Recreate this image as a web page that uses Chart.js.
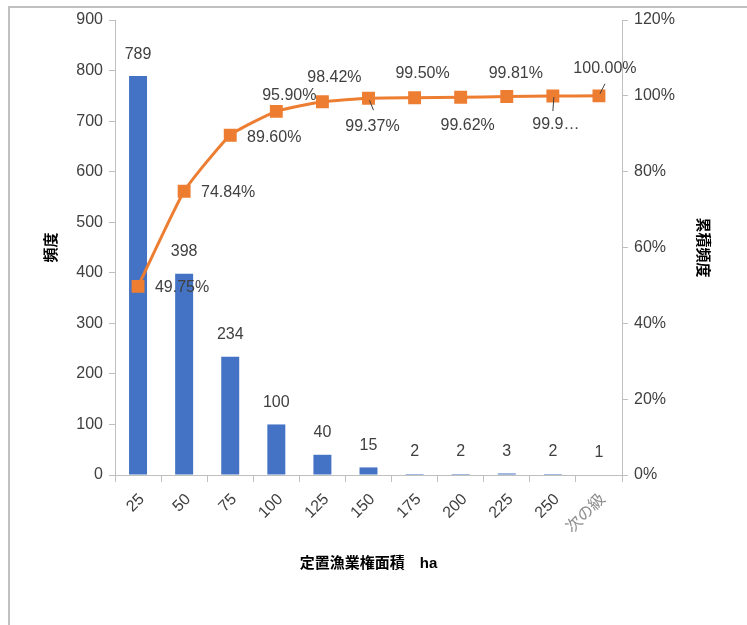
<!DOCTYPE html>
<html>
<head>
<meta charset="utf-8">
<script src="https://cdn.jsdelivr.net/npm/chart.js@4/dist/chart.umd.min.js"></script>
<style>
  html, body { margin: 0; padding: 0; background: #fff; }
  #wrap { width: 747px; height: 625px; }
</style>
</head>
<body>
<div id="wrap"><canvas id="chart" width="747" height="625"></canvas></div>
<script>
const categories = ['25', '50', '75', '100', '125', '150', '175', '200', '225', '250', '次の級'];
const frequency = [789, 398, 234, 100, 40, 15, 2, 2, 3, 2, 1];
const cumulative = [49.75, 74.84, 89.60, 95.90, 98.42, 99.37, 99.50, 99.62, 99.81, 99.94, 100.00];
const cumulativeText = ['49.75%', '74.84%', '89.60%', '95.90%', '98.42%', '99.37%', '99.50%', '99.62%', '99.81%', '99.9…', '100.00%'];

// label placement relative to each marker (dx, dy) plus optional leader line
const labelOffsets = [
  {dx: 44, dy: 1}, {dx: 44, dy: 1}, {dx: 44, dy: 2},
  {dx: 13, dy: -16}, {dx: 12, dy: -24},
  {dx: 4, dy: 28, lead: [1, 2, 5, 12]},
  {dx: 8, dy: -24}, {dx: 7, dy: 28}, {dx: 9, dy: -23},
  {dx: 3, dy: 29, lead: [1, 1, 0, 15]},
  {dx: 6, dy: -27, lead: [6, -12, 1, -2]}
];

const FONT = "'Liberation Sans', 'Noto Sans CJK JP', Arial, sans-serif";

const frame = {
  id: 'frame',
  beforeDraw(chart) {
    const ctx = chart.ctx;
    ctx.save();
    ctx.strokeStyle = '#c0c0c0';
    ctx.lineWidth = 2;
    ctx.beginPath();
    ctx.moveTo(9, 625);
    ctx.lineTo(9, 7);
    ctx.lineTo(747, 7);
    ctx.stroke();
    ctx.restore();
  }
};

const valueLabels = {
  id: 'valueLabels',
  afterDatasetsDraw(chart) {
    const ctx = chart.ctx;
    ctx.save();
    ctx.font = '16px ' + FONT;
    ctx.fillStyle = '#404040';
    ctx.textAlign = 'center';
    ctx.textBaseline = 'middle';
    chart.getDatasetMeta(1).data.forEach((bar, i) => {
      ctx.fillText(String(frequency[i]), bar.x, bar.y - 22);
    });
    chart.getDatasetMeta(0).data.forEach((pt, i) => {
      const o = labelOffsets[i];
      if (o.lead) {
        ctx.strokeStyle = '#404040';
        ctx.lineWidth = 1;
        ctx.beginPath();
        ctx.moveTo(pt.x + o.lead[0], pt.y + o.lead[1]);
        ctx.lineTo(pt.x + o.lead[2], pt.y + o.lead[3]);
        ctx.stroke();
      }
      ctx.fillText(cumulativeText[i], pt.x + o.dx, pt.y + o.dy);
    });
    ctx.restore();
  }
};

new Chart(document.getElementById('chart'), {
  data: {
    labels: categories,
    datasets: [
      {
        type: 'line',
        label: '累積頻度',
        data: cumulative,
        yAxisID: 'y1',
        borderColor: '#ED7D31',
        backgroundColor: '#ED7D31',
        borderWidth: 3,
        pointStyle: 'rect',
        pointRadius: 7,
        pointHoverRadius: 7,
        tension: 0.15,
        order: 0
      },
      {
        type: 'bar',
        label: '頻度',
        data: frequency,
        yAxisID: 'y',
        backgroundColor: '#4472C4',
        categoryPercentage: 1,
        barPercentage: 0.39,
        order: 1
      }
    ]
  },
  options: {
    responsive: false,
    animation: false,
    layout: {padding: {left: 39, right: 32, top: 20, bottom: 48}},
    plugins: {
      legend: {display: false},
      tooltip: {enabled: false}
    },
    scales: {
      x: {
        grid: {drawOnChartArea: false, color: '#bfbfbf', tickLength: 7},
        border: {color: '#bfbfbf'},
        ticks: {
          minRotation: 45, maxRotation: 45, padding: 8, labelOffset: 4,
          font: {family: FONT, size: 16},
          color: ctx => ctx.index === 10 ? '#8c8c8c' : '#404040'
        },
        title: {display: true, text: '定置漁業権面積　ha', font: {family: FONT, size: 15, weight: 'bold'}, color: '#000', padding: {top: 20}},
        afterFit: s => { s.height = 102; }
      },
      y: {
        position: 'left',
        min: 0, max: 900,
        ticks: {stepSize: 100, font: {family: FONT, size: 16}, color: '#404040', padding: 6},
        grid: {drawOnChartArea: false, color: '#bfbfbf', tickLength: 6},
        border: {color: '#bfbfbf'},
        title: {display: true, text: '頻度', font: {family: FONT, size: 15, weight: 'bold'}, color: '#000'},
        afterFit: s => { s.width = 76; }
      },
      y1: {
        position: 'right',
        min: 0, max: 120,
        ticks: {stepSize: 20, callback: v => v + '%', font: {family: FONT, size: 16}, color: '#404040', padding: 6},
        grid: {drawOnChartArea: false, color: '#bfbfbf', tickLength: 6},
        border: {color: '#bfbfbf'},
        title: {display: true, text: '累積頻度', font: {family: FONT, size: 15, weight: 'bold'}, color: '#000'},
        afterFit: s => { s.width = 93; }
      }
    }
  },
  plugins: [frame, valueLabels]
});
</script>
</body>
</html>
